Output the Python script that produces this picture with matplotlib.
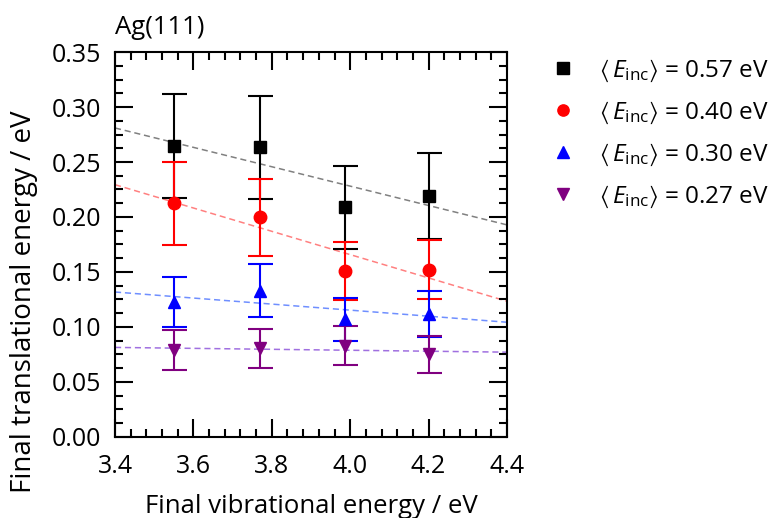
import numpy as np
import matplotlib.pyplot as plt
from matplotlib.ticker import MultipleLocator

plt.rcParams['font.family'] = ['Open Sans', 'DejaVu Sans']
plt.rcParams['mathtext.fontset'] = 'custom'
plt.rcParams['mathtext.rm'] = 'Open Sans'
plt.rcParams['mathtext.it'] = 'Open Sans:italic'
plt.rcParams['mathtext.fallback'] = 'stixsans'

# final vibrational energy (eV)
x_vib = [3.55, 3.77, 3.987, 4.20]

# final translational energy (eV) and error bars per incidence energy
e057 = [0.2645, 0.2633, 0.2088, 0.2191]
err057 = [0.047, 0.047, 0.0375, 0.0395]
e040 = [0.2124, 0.1997, 0.1512, 0.1521]
err040 = [0.0375, 0.035, 0.0265, 0.027]
e030 = [0.123, 0.133, 0.107, 0.1118]
err030 = [0.0227, 0.0243, 0.0197, 0.0205]
e027 = [0.079, 0.0805, 0.083, 0.075]
err027 = [0.018, 0.018, 0.018, 0.017]

labels = ['0.57', '0.40', '0.30', '0.27']
series = [e057, e040, e030, e027]
errors = [err057, err040, err030, err027]
colors = ['black', 'red', 'blue', 'purple']
fit_colors = ['#808080', '#ff8080', '#6f8fff', '#a070e0']
markers = ['s', 'o', '^', 'v']

fig = plt.figure(figsize=(7.73, 5.18), dpi=100)
ax = fig.add_axes([0.1488, 0.1564, 0.5071, 0.7432])

xx = np.array([3.4, 4.4])
for y, e, c, fc, m, lab in zip(series, errors, colors, fit_colors, markers, labels):
    k, b = np.polyfit(x_vib, y, 1)
    ax.plot(xx, k * xx + b, ls=(0, (4, 2.5)), color=fc, lw=1.1, zorder=1)
    ax.errorbar(x_vib, y, yerr=e, fmt='none', ecolor=c, elinewidth=1.5,
                capsize=9, capthick=1.5, zorder=2)
    ax.plot(x_vib, y, ls='none', marker=m, color=c, markersize=9, zorder=3,
            label=r'$\left\langle\,E_\mathrm{inc}\right\rangle$ = ' + lab + ' eV')

ax.set_xlim(3.4, 4.4)
ax.set_ylim(0, 0.35)
ax.xaxis.set_major_locator(MultipleLocator(0.2))
ax.xaxis.set_minor_locator(MultipleLocator(0.04))
ax.yaxis.set_major_locator(MultipleLocator(0.05))
ax.yaxis.set_minor_locator(MultipleLocator(0.0125))
ax.xaxis.set_major_formatter(lambda v, p: f'{v:.1f}')
ax.yaxis.set_major_formatter(lambda v, p: f'{v:.2f}')
ax.tick_params(which='both', direction='in', top=True, right=True, labelsize=18, width=1.5)
ax.tick_params(which='major', length=13)
ax.tick_params(axis='x', which='major', pad=12)
ax.tick_params(axis='y', which='major', pad=10)
ax.tick_params(which='minor', length=6)
for s in ax.spines.values():
    s.set_linewidth(1.5)

ax.set_xlabel('Final vibrational energy / eV', fontsize=18.5, labelpad=11)
ax.set_ylabel('Final translational energy / eV', fontsize=20, va='center')
ax.yaxis.set_label_coords(-0.232, 0.35)
ax.text(0.0, 1.03, 'Ag(111)', transform=ax.transAxes, fontsize=18.5, ha='left', va='bottom')

ax.legend(loc='upper left', bbox_to_anchor=(0.70, 0.908), bbox_transform=fig.transFigure,
          frameon=False, fontsize=17.5, handlelength=1.0, handletextpad=1.0,
          labelspacing=0.65, borderaxespad=0, markerscale=0.9)

fig.savefig('out.png', dpi=100)
